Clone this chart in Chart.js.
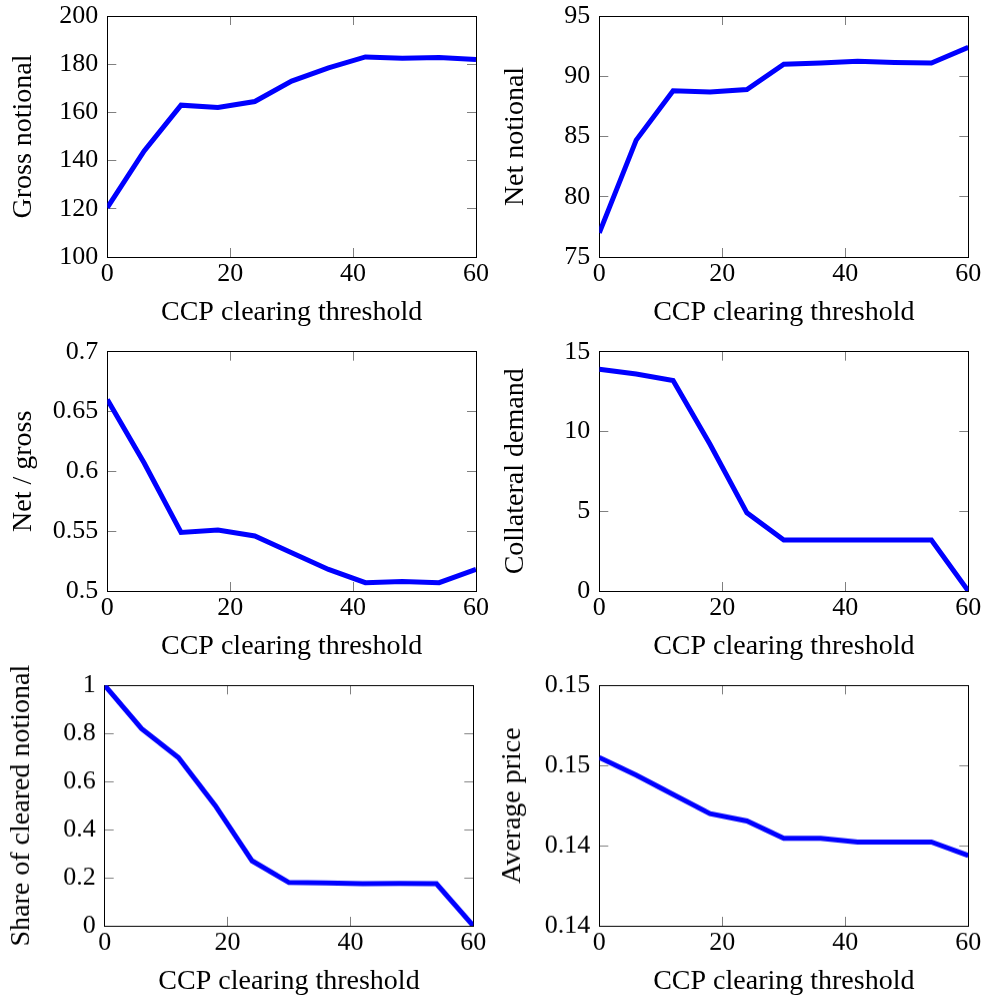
<!DOCTYPE html>
<html>
<head>
<meta charset="utf-8">
<script src="https://cdn.jsdelivr.net/npm/chart.js@4"></script>
<style>
  html, body { margin: 0; padding: 0; background: #fff; overflow: hidden; }
  #wrap { position: relative; width: 985px; height: 999px; }
  canvas { position: absolute; }
</style>
</head>
<body>
<div id="wrap"></div>
<script>
// Datos
const thresholds = [0, 6, 12, 18, 24, 30, 36, 42, 48, 54, 60];
const grossNotional = [120.5, 144, 163, 162, 164.5, 173, 178.5, 183, 182.5, 182.8, 182];
const netNotional = [77, 84.7, 88.8, 88.7, 88.9, 91.0, 91.1, 91.25, 91.15, 91.1, 92.4];
const netOverGross = [0.66, 0.607, 0.549, 0.551, 0.546, 0.532, 0.518, 0.507, 0.508, 0.507, 0.518];
const collateralDemand = [13.9, 13.6, 13.2, 9.2, 4.9, 3.2, 3.2, 3.2, 3.2, 3.2, 0];
const clearedShare = [1.0, 0.82, 0.70, 0.50, 0.27, 0.18, 0.178, 0.175, 0.176, 0.175, 0.0];
const averagePrice = [0.1455, 0.1444, 0.1432, 0.1420, 0.14154, 0.14046, 0.14046, 0.14023, 0.14023, 0.14023, 0.13938];

// Rangos de los ejes: [min, max, paso]
const xRange = [0, 60, 20];
const grossRange = [100, 200, 20];
const netRange = [75, 95, 5];
const ratioRange = [0.5, 0.7, 0.05];
const collateralRange = [0, 15, 5];
const shareRange = [0, 1, 0.2];
const priceRange = [0.135, 0.15, 0.005];
const priceTickLabels = ['0.14', '0.14', '0.15', '0.15'];

const xTitle = 'CCP clearing threshold';

const paneles = [
  { titulo: 'Gross notional', datos: grossNotional, rango: grossRange },
  { titulo: 'Net notional', datos: netNotional, rango: netRange },
  { titulo: 'Net / gross', datos: netOverGross, rango: ratioRange },
  { titulo: 'Collateral demand', datos: collateralDemand, rango: collateralRange },
  { titulo: 'Share of cleared notional', datos: clearedShare, rango: shareRange },
  { titulo: 'Average price', datos: averagePrice, rango: priceRange, etiquetas: priceTickLabels }
];

// Geometría de cada panel (posición del lienzo y del área de trazado)
const geometria = [
  { left: 0,   top: 0,   w: 490, l: 107.3, t: 16,   r: 476,   b: 257,   ty: 7 },
  { left: 490, top: 0,   w: 495, l: 109.3, t: 16,   r: 478.3, b: 257,   ty: 9 },
  { left: 0,   top: 330, w: 490, l: 107.3, t: 21.7, r: 476,   b: 261,   ty: 7 },
  { left: 490, top: 330, w: 495, l: 109.3, t: 21.7, r: 478.3, b: 261,   ty: 9 },
  { left: 0,   top: 660, w: 490, l: 104.7, t: 25.3, r: 473.3, b: 265.7, ty: 5 },
  { left: 490, top: 660, w: 495, l: 109.3, t: 25.3, r: 478.3, b: 265.7, ty: 6 }
];

const FUENTE = 'Liberation Serif, Times New Roman, serif';
const fuenteTicks = { family: FUENTE, size: 26 };
const fuenteTitulo = { family: FUENTE, size: 28 };
const TICK = -9;
const ABAJO = 75;

function sinRelleno(s) {
  s.paddingTop = 0;
  s.paddingBottom = 0;
  s.paddingLeft = 0;
  s.paddingRight = 0;
}

function ejeBase(pos, rango, visible) {
  return {
    type: 'linear',
    position: pos,
    min: rango[0],
    max: rango[1],
    ticks: {
      display: visible,
      stepSize: rango[2],
      color: '#000',
      font: fuenteTicks,
      maxRotation: 0,
      autoSkip: false
    },
    grid: { drawOnChartArea: false, tickLength: TICK, color: '#808080', lineWidth: 1 },
    border: { display: true, color: '#000', width: 1 }
  };
}

const wrap = document.getElementById('wrap');

paneles.forEach(function (p, i) {
  const g = geometria[i];
  const alto = g.b + ABAJO;
  const canvas = document.createElement('canvas');
  canvas.width = g.w;
  canvas.height = alto;
  canvas.style.left = g.left + 'px';
  canvas.style.top = g.top + 'px';
  canvas.style.width = g.w + 'px';
  canvas.style.height = alto + 'px';
  wrap.appendChild(canvas);

  const x = ejeBase('bottom', xRange, true);
  x.ticks.padding = 11;
  x.title = { display: true, text: xTitle, color: '#000', font: fuenteTitulo, padding: { top: 0, bottom: 3 } };
  x.afterFit = function (s) { s.height = ABAJO; sinRelleno(s); };

  const xTop = ejeBase('top', xRange, false);
  xTop.afterFit = function (s) { s.height = 0; sinRelleno(s); };

  const y = ejeBase('left', p.rango, true);
  y.ticks.padding = 18;
  if (p.etiquetas) {
    y.ticks.callback = function (v, idx) { return p.etiquetas[idx]; };
  } else {
    y.ticks.callback = function (v) { return String(parseFloat(v.toFixed(4))); };
  }
  y.title = { display: true, text: p.titulo, color: '#000', font: fuenteTitulo, padding: { top: g.ty, bottom: 0 } };
  y.afterFit = function (s) { s.width = g.l; sinRelleno(s); };

  const yRight = ejeBase('right', p.rango, false);
  yRight.afterFit = function (s) { s.width = 0; sinRelleno(s); };

  new Chart(canvas.getContext('2d'), {
    type: 'line',
    data: {
      datasets: [{
        data: thresholds.map((t, k) => ({ x: t, y: p.datos[k] })),
        borderColor: '#0000ff',
        borderWidth: 5,
        borderJoinStyle: 'miter',
        pointRadius: 0,
        tension: 0,
        fill: false,
        clip: 0
      }]
    },
    options: {
      responsive: false,
      animation: false,
      events: [],
      layout: { padding: { top: g.t, right: g.w - g.r, bottom: 0, left: 0 } },
      plugins: { legend: { display: false }, tooltip: { enabled: false } },
      scales: { x: x, xTop: xTop, y: y, yRight: yRight }
    }
  });
});
</script>
</body>
</html>
